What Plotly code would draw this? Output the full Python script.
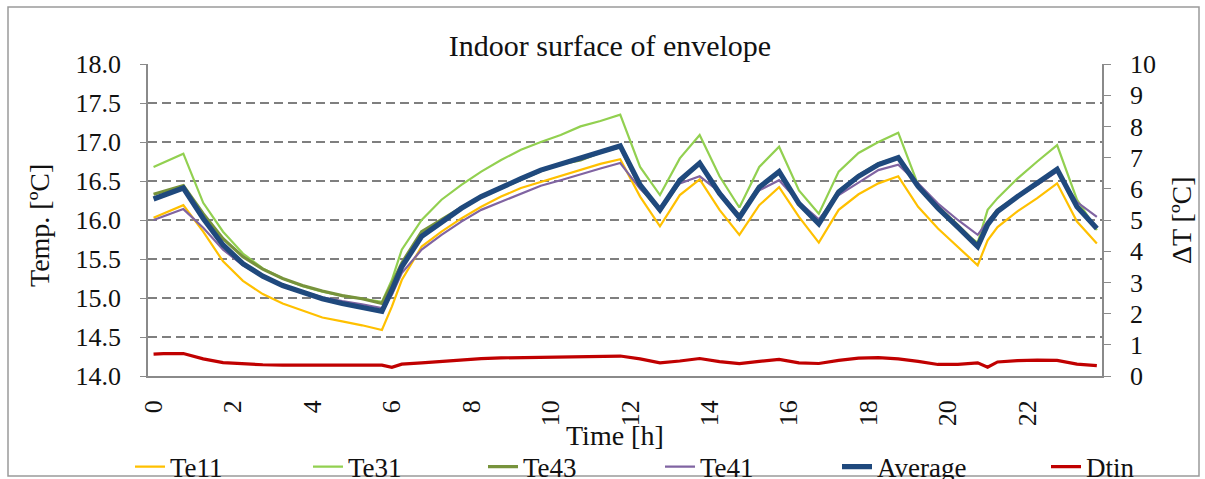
import plotly.graph_objects as go

# ---------------- data ----------------
hours = [0, 0.25, 0.75, 1.25, 1.75, 2.25, 2.75, 3.25, 3.75, 4.25, 4.75, 5.25, 5.75, 6.0,
         6.25, 6.75, 7.25, 7.75, 8.25, 8.75, 9.25, 9.75, 10.25, 10.75, 11.25, 11.75,
         12.25, 12.75, 13.25, 13.75, 14.25, 14.75, 15.25, 15.75, 16.25, 16.75, 17.25,
         17.75, 18.25, 18.75, 19.25, 19.75, 20.25, 20.75, 21.0, 21.25, 21.75, 22.25,
         22.75, 23.25, 23.75]

te11 = [16.03, 16.08, 16.19, 15.85, 15.47, 15.22, 15.05, 14.93, 14.84, 14.75, 14.70, 14.65, 14.59, 14.89,
        15.23, 15.66, 15.85, 16.02, 16.17, 16.30, 16.41, 16.49, 16.56, 16.64, 16.72, 16.78,
        16.30, 15.92, 16.32, 16.52, 16.13, 15.81, 16.19, 16.42, 16.04, 15.71, 16.13,
        16.33, 16.47, 16.56, 16.17, 15.89, 15.66, 15.42, 15.74, 15.91, 16.11, 16.28,
        16.47, 15.98, 15.70]

te31 = [16.68, 16.74, 16.85, 16.22, 15.85, 15.57, 15.38, 15.25, 15.15, 15.08, 15.03, 14.99, 14.95, 15.23,
        15.62, 16.00, 16.26, 16.45, 16.62, 16.77, 16.90, 17.00, 17.09, 17.20, 17.27, 17.35,
        16.68, 16.32, 16.79, 17.09, 16.56, 16.16, 16.68, 16.94, 16.38, 16.08, 16.62,
        16.86, 17.00, 17.12, 16.45, 16.13, 15.89, 15.71, 16.13, 16.28, 16.53, 16.75,
        16.96, 16.26, 15.87]

te43 = [16.33, 16.37, 16.44, 16.08, 15.76, 15.53, 15.37, 15.25, 15.16, 15.09, 15.03, 14.99, 14.93, 15.18,
        15.45, 15.85, 16.01, 16.16, 16.30, 16.41, 16.52, 16.63, 16.72, 16.77, 16.87, 16.94,
        16.42, 16.12, 16.49, 16.74, 16.33, 16.06, 16.43, 16.62, 16.20, 15.98, 16.37,
        16.57, 16.72, 16.80, 16.45, 16.17, 15.93, 15.68, 15.97, 16.13, 16.30, 16.46,
        16.64, 16.18, 15.90]

te41 = [16.00, 16.05, 16.14, 15.90, 15.62, 15.42, 15.27, 15.16, 15.08, 15.01, 14.96, 14.92, 14.87, 15.04,
        15.32, 15.62, 15.81, 15.98, 16.13, 16.23, 16.34, 16.44, 16.51, 16.59, 16.66, 16.73,
        16.40, 16.16, 16.47, 16.56, 16.36, 16.06, 16.38, 16.51, 16.23, 16.01, 16.32,
        16.48, 16.64, 16.71, 16.47, 16.21, 16.00, 15.81, 15.98, 16.13, 16.30, 16.45,
        16.62, 16.23, 16.04]

average = [16.27, 16.32, 16.41, 16.02, 15.68, 15.44, 15.28, 15.16, 15.07, 14.99, 14.93, 14.88, 14.83, 15.10,
           15.40, 15.79, 15.98, 16.15, 16.30, 16.42, 16.53, 16.64, 16.72, 16.79, 16.88, 16.95,
           16.45, 16.13, 16.51, 16.73, 16.34, 16.03, 16.42, 16.62, 16.21, 15.95, 16.36,
           16.56, 16.71, 16.80, 16.43, 16.15, 15.91, 15.66, 15.94, 16.11, 16.30, 16.47,
           16.65, 16.17, 15.89]

dtin = [0.70, 0.72, 0.72, 0.55, 0.43, 0.39, 0.36, 0.35, 0.35, 0.35, 0.35, 0.35, 0.35, 0.28,
        0.38, 0.42, 0.47, 0.53, 0.56, 0.58, 0.59, 0.60, 0.61, 0.62, 0.61, 0.64,
        0.55, 0.42, 0.48, 0.56, 0.46, 0.40, 0.47, 0.53, 0.42, 0.40, 0.50,
        0.57, 0.59, 0.55, 0.47, 0.37, 0.37, 0.42, 0.28, 0.45, 0.49, 0.51,
        0.50, 0.38, 0.33]

x_ticks = [0, 2, 4, 6, 8, 10, 12, 14, 16, 18, 20, 22]
series_names = ["Te11", "Te31", "Te43", "Te41", "Average", "Dtin"]

# ---------------- layout helpers ----------------
W, H = 1205, 479
L, R, T, B = 148, 1102, 64, 376


def px_x(p):
    return (p - L) / (R - L)


def px_y(p):
    return (B - p) / (B - T)


FONT = "Liberation Serif"
GRID = "#7f7f7f"
AXIS = "#8a8a8a"

styles = [
    ("#FFC000", 2.2, "y"),
    ("#92D050", 2.2, "y"),
    ("#77933C", 3.2, "y"),
    ("#8064A2", 2.2, "y"),
    ("#1F497D", 5.2, "y"),
    ("#C00000", 3.2, "y2"),
]
values = [te11, te31, te43, te41, average, dtin]

fig = go.Figure()
for i, (name, vals, (color, width, ax)) in enumerate(zip(series_names, values, styles)):
    fig.add_trace(go.Scatter(
        x=hours, y=vals, name=name, mode="lines",
        line=dict(color=color, width=width),
        yaxis=ax,
        legend="legend" if i == 0 else f"legend{i + 1}",
    ))

legend_text_x = [170, 348, 523, 700, 877, 1086]
legends = {}
for i, tx in enumerate(legend_text_x):
    key = "legend" if i == 0 else f"legend{i + 1}"
    legends[key] = dict(
        x=px_x(tx - 40), xanchor="left",
        y=px_y(467), yanchor="middle",
        orientation="h", bgcolor="rgba(0,0,0,0)", borderwidth=0,
        font=dict(family=FONT, size=27, color="#111"),
    )

fig.update_layout(
    width=W, height=H,
    margin=dict(l=L, r=W - R, t=T, b=H - B, autoexpand=False),
    paper_bgcolor="white", plot_bgcolor="white",
    font=dict(family=FONT, size=26, color="#111"),
    title=dict(text="Indoor surface of envelope", x=610 / W, xanchor="center",
               y=1 - 45 / H, yanchor="middle", xref="container", yref="container",
               font=dict(family=FONT, size=30, color="#111")),
    xaxis=dict(range=[-0.14, 23.88], tickvals=x_ticks, ticktext=[str(v) for v in x_ticks],
               tickangle=-90, showgrid=False, zeroline=False, showline=True,
               linecolor=AXIS, linewidth=1.5, ticks="", ticklabelstandoff=12,
               tickfont=dict(family=FONT, size=26, color="#111")),
    yaxis=dict(range=[14, 18], dtick=0.5, tickformat=".1f", showgrid=True, gridcolor=GRID,
               griddash="9px,5px", gridwidth=1.5, zeroline=False, showline=True,
               linecolor=AXIS, linewidth=1.5, ticks="outside", ticklen=6, tickcolor=AXIS,
               tickwidth=1.3, ticklabelstandoff=14,
               tickfont=dict(family=FONT, size=26, color="#111")),
    yaxis2=dict(range=[0, 10], dtick=1, overlaying="y", side="right", showgrid=False,
                zeroline=False, showline=True, linecolor=AXIS, linewidth=1.5,
                ticks="outside", ticklen=7, tickcolor=AXIS, tickwidth=1.3,
                ticklabelstandoff=14,
                tickfont=dict(family=FONT, size=26, color="#111")),
    showlegend=True,
    **legends,
)

fig.add_annotation(text="Temp. [ºC]", x=px_x(40), y=px_y(226), xref="paper", yref="paper",
                   textangle=-90, showarrow=False, xanchor="center", yanchor="middle",
                   font=dict(family=FONT, size=28, color="#111"))
fig.add_annotation(text="ΔT [ºC]", x=px_x(1181), y=px_y(220), xref="paper", yref="paper",
                   textangle=-90, showarrow=False, xanchor="center", yanchor="middle",
                   font=dict(family=FONT, size=28, color="#111"))
fig.add_annotation(text="Time [h]", x=px_x(615), y=px_y(435), xref="paper", yref="paper",
                   showarrow=False, xanchor="center", yanchor="middle",
                   font=dict(family=FONT, size=28, color="#111"))

fig.add_shape(type="rect", xref="paper", yref="paper",
              x0=px_x(8), x1=px_x(1199), y0=px_y(476), y1=px_y(7),
              line=dict(color="#9a9a9a", width=1.5), fillcolor="rgba(0,0,0,0)", layer="below")

fig.write_html("out.html")
